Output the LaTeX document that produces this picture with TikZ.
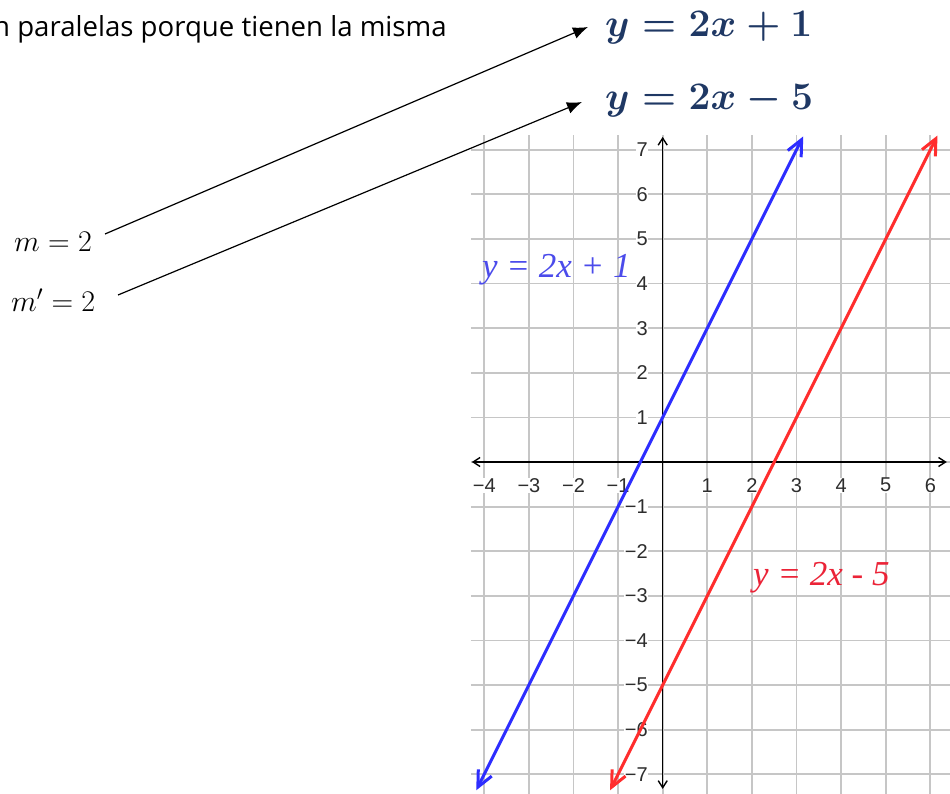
\RequirePackage{fix-cm}
\documentclass[tikz,border=0pt]{standalone}
\usepackage{fontspec}
\newfontfamily\tickfont{Liberation Sans}
\newfontfamily\notefont{Open Sans}
\newfontfamily\lblfont{Liberation Serif}
\usetikzlibrary{arrows.meta}
\definecolor{gridgray}{RGB}{198,198,198}
\definecolor{lineblue}{RGB}{45,45,255}
\definecolor{linered}{RGB}{255,45,45}
\definecolor{labelblue}{RGB}{75,75,235}
\definecolor{labelred}{RGB}{235,35,55}
\definecolor{eqnavy}{RGB}{31,56,100}
\definecolor{ticktext}{RGB}{45,45,45}
\begin{document}
\begin{tikzpicture}[x=1pt,y=-1pt,
  gridline/.style={draw=gridgray,line width=1.8pt},
  ticklbl/.style={font=\tickfont\fontsize{20}{20}\selectfont,text=ticktext,fill=white,inner sep=0.6pt},
  axisline/.style={line width=1.4pt,{Straight Barb[length=7pt,width=9pt]}-{Straight Barb[length=7pt,width=9pt]}},
  fnline/.style={line width=3pt,line cap=round,{Straight Barb[length=16pt,width=15pt]}-{Straight Barb[length=16pt,width=15pt]}},
  fnlbl/.style={font=\lblfont\itshape\fontsize{35}{35}\selectfont,inner sep=0pt,anchor=base west},
  eqlbl/.style={font=\fontsize{39}{39}\selectfont\boldmath,text=eqnavy,inner sep=0pt,anchor=base west},
  mlbl/.style={font=\fontsize{30}{30}\selectfont,inner sep=0pt,anchor=base west},
  notelbl/.style={font=\notefont\fontsize{27.6}{28}\selectfont,inner sep=0pt,anchor=base west},
  ptr/.style={line width=1.2pt,-{Latex[length=15pt,width=12pt]}}]
\fill[white] (0,0) rectangle (950,794);
\useasboundingbox (0,0) rectangle (950,794);
\begin{scope}[shift={(662.7,462)},x=44.6pt,y=44.6pt]
  \foreach \i in {-4,...,6} \draw[gridline] (\i,-7.45) -- (\i,7.33);
  \foreach \j in {-7,...,7} \draw[gridline] (-4.3,\j) -- (6.5,\j);
  \foreach \i/\t in {-4/−4,-3/−3,-2/−2,-1/−1,1/1,2/2,3/3,4/4,5/5,6/6}
    \node[ticklbl] (xt\i) at (\i,-0.52) {\t};
  \foreach \j/\t in {-7/−7,-6/−6,-5/−5,-4/−4,-3/−3,-2/−2,-1/−1,1/1,2/2,3/3,4/4,5/5,6/6,7/7}
    \node[ticklbl,anchor=east] (yt\j) at (-0.32,\j) {\t};
  \draw[axisline] (-4.28,0) -- (6.37,0);
  \draw[axisline] (0,-7.33) -- (0,7.29);
  \draw[fnline,lineblue] (-4.18,-7.36) -- (3.15,7.3);
  \draw[fnline,linered] (-1.18,-7.36) -- (6.16,7.32);
\end{scope}
\node[fnlbl,text=labelblue] (lblA) at (482,278) {y = 2x + 1};
\node[fnlbl,text=labelred] (lblB) at (753,585) {y = 2x - 5};
\node[notelbl] (note) at (-7,37) {n paralelas porque tienen la misma};
\node[eqlbl] (eq1) at (605,37) {$y=2x+1$};
\node[eqlbl] (eq2) at (605,110) {$y=2x-5$};
\node[mlbl] (m1) at (14,252) {$m=2$};
\node[mlbl] (m2) at (11,311) {$m'=2$};
\coordinate (m1out) at (105,234);
\coordinate (eq1in) at (588,27);
\coordinate (m2out) at (118,295);
\coordinate (eq2in) at (582,102);
\draw[ptr] (m1out) -- (eq1in);
\draw[ptr] (m2out) -- (eq2in);
\end{tikzpicture}
\end{document}
